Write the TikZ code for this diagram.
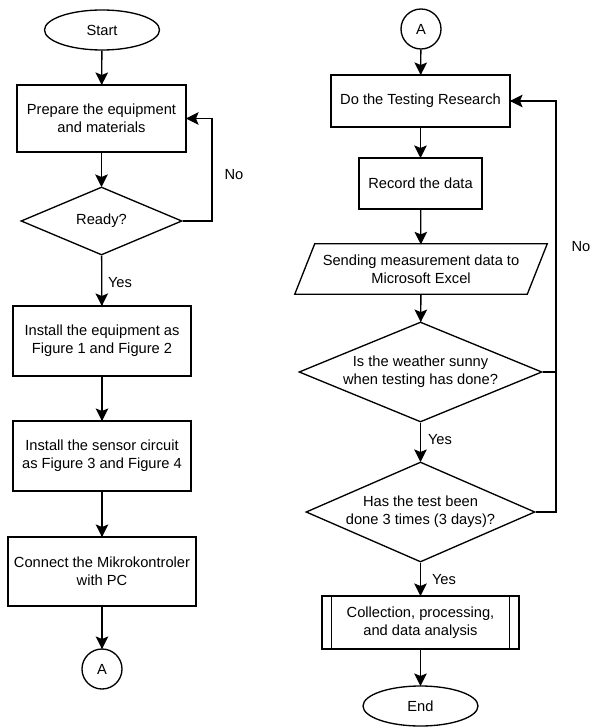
\documentclass[tikz,border=0pt]{standalone}
\usepackage{fontspec}
\setmainfont{Liberation Sans}
\usetikzlibrary{shapes.geometric,calc,decorations.markings}
\tikzset{
  flowbox/.style={draw, rectangle, line width=1pt},
  flowterm/.style={draw, ellipse, line width=1pt, minimum width=115*0.75pt, minimum height=40*0.75pt},
  flowconn/.style={draw, circle, line width=1pt, minimum size=40*0.75pt},
  flowdec/.style={draw, diamond, line width=1pt},
  flowlbl/.style={font=\fontsize{11}{13}\selectfont},
  flowarr/.style={line width=1pt, postaction={decorate},
    decoration={markings, mark=at position 1 with {\fill[black] (0.5pt,0pt) -- (-9pt,4.8pt) -- (-7pt,0pt) -- (-9pt,-4.8pt) -- cycle;}}},
  flowline/.style={line width=1pt}
}
\begin{document}
\begin{tikzpicture}[x=0.75pt,y=-0.75pt,
  every node/.style={font=\fontsize{11}{13.7}\selectfont, align=center, inner sep=0pt}]
\useasboundingbox (0,0) rectangle (591,727);
% left column
\node[flowterm] (start) at (102,30) {Start};
\node[flowbox, minimum width=169*0.75pt, minimum height=67*0.75pt] (prep) at (101.5,118.5) {Prepare the equipment\\and materials};
\node[flowdec, aspect=2.37, minimum width=161*0.75pt, minimum height=68*0.75pt] (ready) at (101.5,221) {Ready?};
\node[flowbox, minimum width=178*0.75pt, minimum height=70*0.75pt] (inst1) at (102,341) {Install the equipment as\\Figure 1 and Figure 2};
\node[flowbox, minimum width=178*0.75pt, minimum height=70*0.75pt] (inst2) at (102,456) {Install the sensor circuit\\as Figure 3 and Figure 4};
\node[flowbox, minimum width=188*0.75pt, minimum height=69*0.75pt] (pc) at (102,571.5) {Connect the Mikrokontroler\\with PC};
\node[flowconn] (a1) at (102,669) {A};
\coordinate (lloop) at (212,221);
\draw[flowarr] (start) -- (prep);
\draw[flowarr] (prep) -- (ready);
\draw[flowarr] (ready) -- (inst1);
\draw[flowarr] (inst1) -- (inst2);
\draw[flowarr] (inst2) -- (pc);
\draw[flowarr] (pc) -- (a1);
\draw[flowarr] (ready.east) -- (lloop) |- (prep.east);
\node[flowlbl] (no1) at (234,175) {No};
\node[flowlbl] (yes1) at (120,283) {Yes};
% right column
\node[flowconn] (a2) at (421,29) {A};
\node[flowbox, minimum width=179*0.75pt, minimum height=52*0.75pt] (test) at (420.5,101) {Do the Testing Research};
\node[flowbox, minimum width=123*0.75pt, minimum height=51*0.75pt] (rec) at (420.5,183.5) {Record the data};
\node[minimum width=252*0.75pt, minimum height=50*0.75pt] (send) at (421,269) {Sending measurement data to\\Microsoft Excel};
\draw[flowline] ([xshift=20*0.75pt]send.north west) -- (send.north east) -- ([xshift=-20*0.75pt]send.south east) -- (send.south west) -- cycle;
\node[flowdec, aspect=2.43, minimum width=243*0.75pt, minimum height=100*0.75pt] (q1) at (420.5,372) {Is the weather sunny\\when testing has done?};
\node[flowdec, aspect=2.29, minimum width=229*0.75pt, minimum height=100*0.75pt] (q2) at (420.5,512) {Has the test been\\done 3 times (3 days)?};
\node[flowbox, minimum width=197*0.75pt, minimum height=53*0.75pt] (coll) at (420.5,622.5) {Collection, processing,\\and data analysis};
\draw[flowline] ([xshift=10*0.75pt]coll.north west) -- ([xshift=10*0.75pt]coll.south west);
\draw[flowline] ([xshift=-10*0.75pt]coll.north east) -- ([xshift=-10*0.75pt]coll.south east);
\node[flowterm] (end) at (420.5,706) {End};
\coordinate (rloop) at (556,372);
\draw[flowarr] (a2) -- (test);
\draw[flowarr] (test) -- (rec);
\draw[flowarr] (rec) -- (send);
\draw[flowarr] (send) -- (q1);
\draw[flowarr] (q1) -- (q2);
\draw[flowarr] (q2) -- (coll);
\draw[flowarr] (coll) -- (end);
\draw[flowline] (q1.east) -- (rloop);
\draw[flowarr] (q2.east) -| (rloop) |- (test.east);
\node[flowlbl] (no2) at (581,247) {No};
\node[flowlbl] (yes2) at (440,440) {Yes};
\node[flowlbl] (yes3) at (444,580) {Yes};
\end{tikzpicture}
\end{document}
